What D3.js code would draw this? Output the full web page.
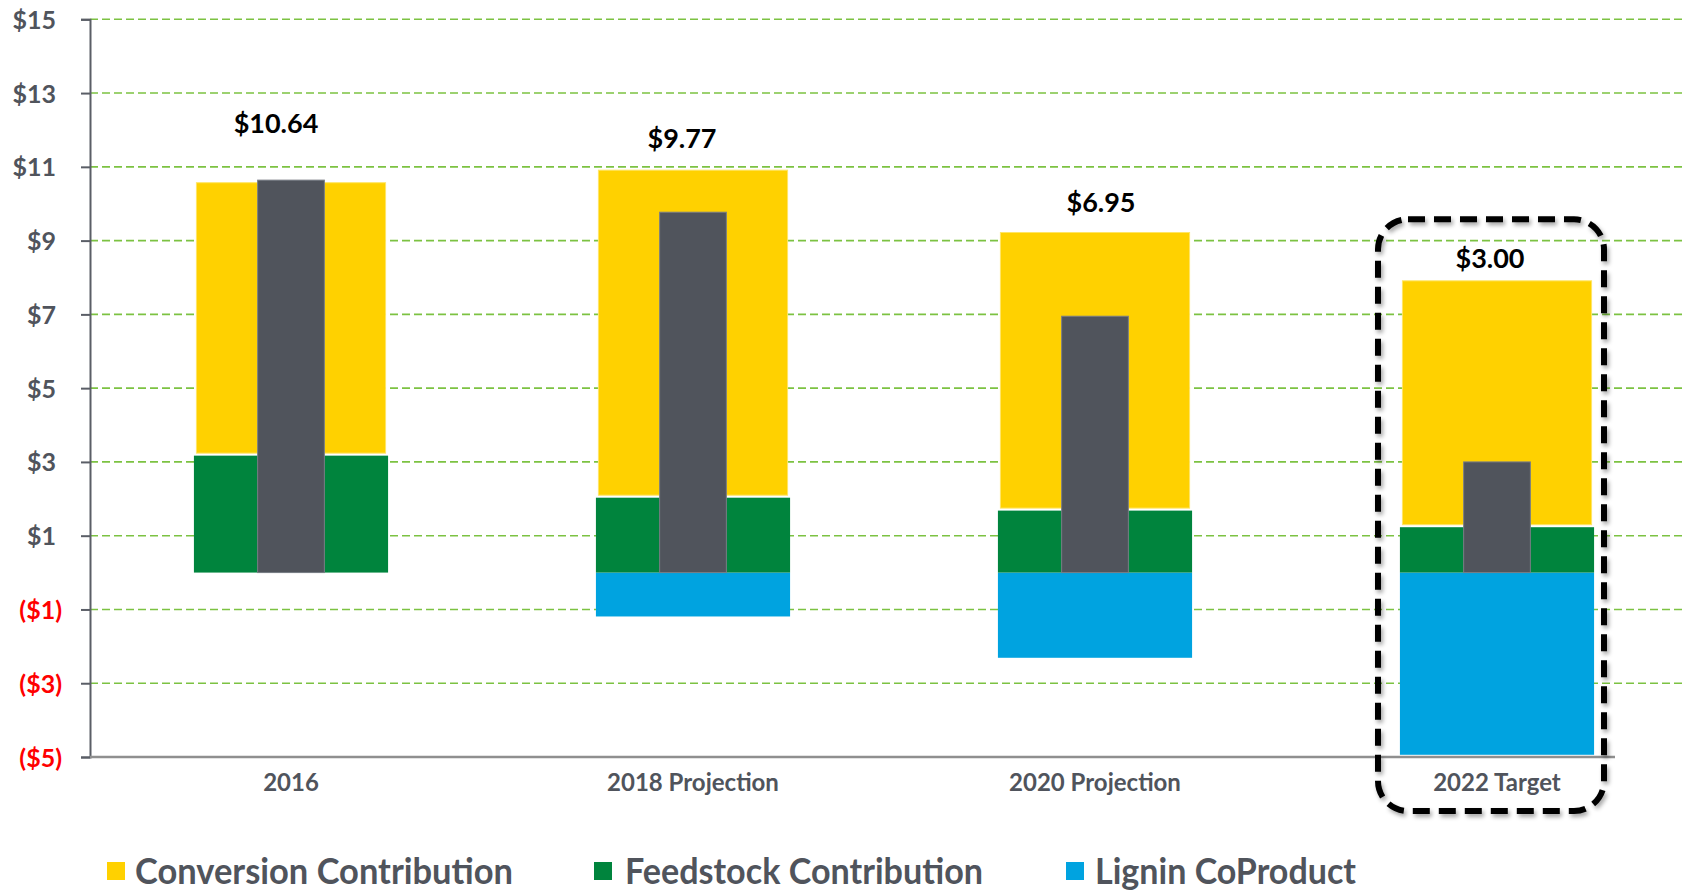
<!DOCTYPE html>
<html>
<head>
<meta charset="utf-8">
<script src="https://cdn.jsdelivr.net/npm/d3@7"></script>
<style>
  body { margin: 0; background: #fff; }
  svg { display: block; font-family: Lato, "Open Sans", sans-serif; font-weight: bold; }
</style>
</head>
<body>
<div class="chart"></div>
<script>
var w = 1686;
var h = 891;
var margin = {top: 19.3, left: 90, bottom: 134};

// data ($/GGE)
var categories = ["2016", "2018 Projection", "2020 Projection", "2022 Target"];
var feedstock = [3.17, 2.03, 1.68, 1.23];
var conversion = [7.40, 8.88, 7.54, 6.68];
var lignin = [0, -1.19, -2.31, -4.94];
var mfsp = [10.64, 9.77, 6.95, 3.00];
var yTicks = [-5, -3, -1, 1, 3, 5, 7, 9, 11, 13, 15];
var legendNames = ["Conversion Contribution", "Feedstock Contribution", "Lignin CoProduct"];

var colors = {conv: "#ffd100", feed: "#00843d", lig: "#00a3e0", total: "#50545c"};
var labelNudge = [[-15, -25], [-11, 0], [6, 2], [-7, 9]]; // hand placed text boxes in the original

var svg = d3.select(".chart")
            .append("svg")
            .attr("width", w)
            .attr("height", h);

var defs = svg.append("defs");
defs.append("filter").attr("id", "shadow")
    .attr("x", "-10%").attr("y", "-10%").attr("width", "120%").attr("height", "120%")
  .append("feDropShadow")
    .attr("dx", 2).attr("dy", 3).attr("stdDeviation", 2)
    .attr("flood-color", "#000").attr("flood-opacity", 0.35);

// scales
var xScale = d3.scaleBand()
    .domain(categories)
    .range([margin.left, 1698]);

var yScale = d3.scaleLinear()
    .domain([-5, 15])
    .range([h - margin.bottom, margin.top]);

var bw = xScale.bandwidth();
var wideW = bw * 0.483;
var thinW = bw * 0.166;
function cx(i) { return xScale(categories[i]) + bw / 2; }

// grid
svg.append("g")
   .selectAll("line")
   .data(yTicks.filter(function (d) { return d > -5; }))
   .enter()
   .append("line")
   .attr("x1", margin.left)
   .attr("x2", w)
   .attr("y1", function (d) { return yScale(d); })
   .attr("y2", function (d) { return yScale(d); })
   .attr("stroke", "#7cc242")
   .attr("stroke-width", 1.6)
   .attr("stroke-dasharray", "8 4");

// y axis
var yAxis = svg.append("g")
   .attr("transform", "translate(" + margin.left + ",0)")
   .call(d3.axisLeft(yScale).tickValues(yTicks).tickSize(9).tickPadding(0)
      .tickFormat(function (d) { return d < 0 ? "($" + Math.abs(d) + ")" : "$" + d; }));
yAxis.select(".domain").attr("stroke", "#5a5e66").attr("stroke-width", 2);
yAxis.selectAll(".tick line").attr("stroke", "#5a5e66").attr("stroke-width", 2);
yAxis.selectAll(".tick text")
   .attr("x", function (d) { return d < 0 ? -28 : -34; })
   .attr("dy", "0.36em")
   .style("font-size", "25px")
   .style("font-family", "Lato, sans-serif")
   .style("font-weight", "bold")
   .attr("fill", function (d) { return d < 0 ? "#ff0000" : "#50545c"; });

// bottom axis line
svg.append("line")
   .attr("x1", margin.left)
   .attr("x2", 1615)
   .attr("y1", yScale(-5))
   .attr("y2", yScale(-5))
   .attr("stroke", "#8f8f8f")
   .attr("stroke-width", 2.5);

// category labels
svg.selectAll(".catLabel")
   .data(categories)
   .enter()
   .append("text")
   .attr("class", "catLabel")
   .attr("x", function (d, i) { return cx(i); })
   .attr("y", yScale(-5) + 34)
   .attr("text-anchor", "middle")
   .attr("fill", "#50545c")
   .style("font-size", "24px")
   .text(function (d) { return d; });

var idx = d3.range(categories.length);

// lignin (negative)
svg.selectAll(".lig")
   .data(idx)
   .enter()
   .append("rect")
   .attr("x", function (i) { return cx(i) - wideW / 2; })
   .attr("y", yScale(0))
   .attr("width", wideW)
   .attr("height", function (i) { return yScale(lignin[i]) - yScale(0); })
   .attr("fill", colors.lig);

// feedstock
svg.selectAll(".feed")
   .data(idx)
   .enter()
   .append("rect")
   .attr("x", function (i) { return cx(i) - wideW / 2; })
   .attr("y", function (i) { return yScale(feedstock[i]); })
   .attr("width", wideW)
   .attr("height", function (i) { return yScale(0) - yScale(feedstock[i]); })
   .attr("fill", colors.feed);

// conversion, stacked on feedstock
svg.selectAll(".conv")
   .data(idx)
   .enter()
   .append("rect")
   .attr("x", function (i) { return cx(i) - wideW / 2 + 2.5; })
   .attr("y", function (i) { return yScale(feedstock[i] + conversion[i]); })
   .attr("width", wideW - 5)
   .attr("height", function (i) { return yScale(feedstock[i]) - yScale(feedstock[i] + conversion[i]) - 2.5; })
   .attr("fill", colors.conv)
   .attr("stroke", "#ffe566")
   .attr("stroke-width", 1);

// total MFSP
svg.selectAll(".total")
   .data(idx)
   .enter()
   .append("rect")
   .attr("x", function (i) { return cx(i) - thinW / 2; })
   .attr("y", function (i) { return yScale(mfsp[i]); })
   .attr("width", thinW)
   .attr("height", function (i) { return yScale(0) - yScale(mfsp[i]); })
   .attr("fill", colors.total)
   .attr("stroke", "#7a7e86")
   .attr("stroke-width", 1);

// value labels
svg.selectAll(".valLabel")
   .data(idx)
   .enter()
   .append("text")
   .attr("x", function (i) { return cx(i) + labelNudge[i][0]; })
   .attr("y", function (i) {
       return yScale(Math.max(mfsp[i], feedstock[i] + conversion[i])) - 32 + labelNudge[i][1];
   })
   .attr("dy", "0.36em")
   .attr("text-anchor", "middle")
   .attr("fill", "#000")
   .style("font-size", "27px")
   .text(function (i) { return "$" + d3.format(".2f")(mfsp[i]); });

// dashed highlight round the target
var last = categories.length - 1;
svg.append("rect")
   .attr("x", cx(last) - 119)
   .attr("y", yScale(15) + 200)
   .attr("width", 226)
   .attr("height", yScale(-5) + 54 - yScale(15) - 200)
   .attr("rx", 30)
   .attr("fill", "none")
   .attr("stroke", "#000")
   .attr("stroke-width", 6)
   .attr("stroke-dasharray", "17 9")
   .attr("filter", "url(#shadow)");

// legend
var legend = [
  {name: legendNames[0], color: colors.conv, sx: 107, tx: 135, len: 378},
  {name: legendNames[1], color: colors.feed, sx: 594, tx: 625, len: 358},
  {name: legendNames[2], color: colors.lig, sx: 1066, tx: 1095, len: 261}
];
var lg = svg.selectAll(".legend")
   .data(legend)
   .enter()
   .append("g");
lg.append("rect")
   .attr("x", function (d) { return d.sx; })
   .attr("y", 862)
   .attr("width", 18)
   .attr("height", 18)
   .attr("fill", function (d) { return d.color; });
lg.append("text")
   .attr("x", function (d) { return d.tx; })
   .attr("y", 884)
   .attr("fill", "#50545c")
   .style("font-size", "37px")
   .attr("textLength", function (d) { return d.len; })
   .attr("lengthAdjust", "spacingAndGlyphs")
   .text(function (d) { return d.name; });
</script>
</body>
</html>
